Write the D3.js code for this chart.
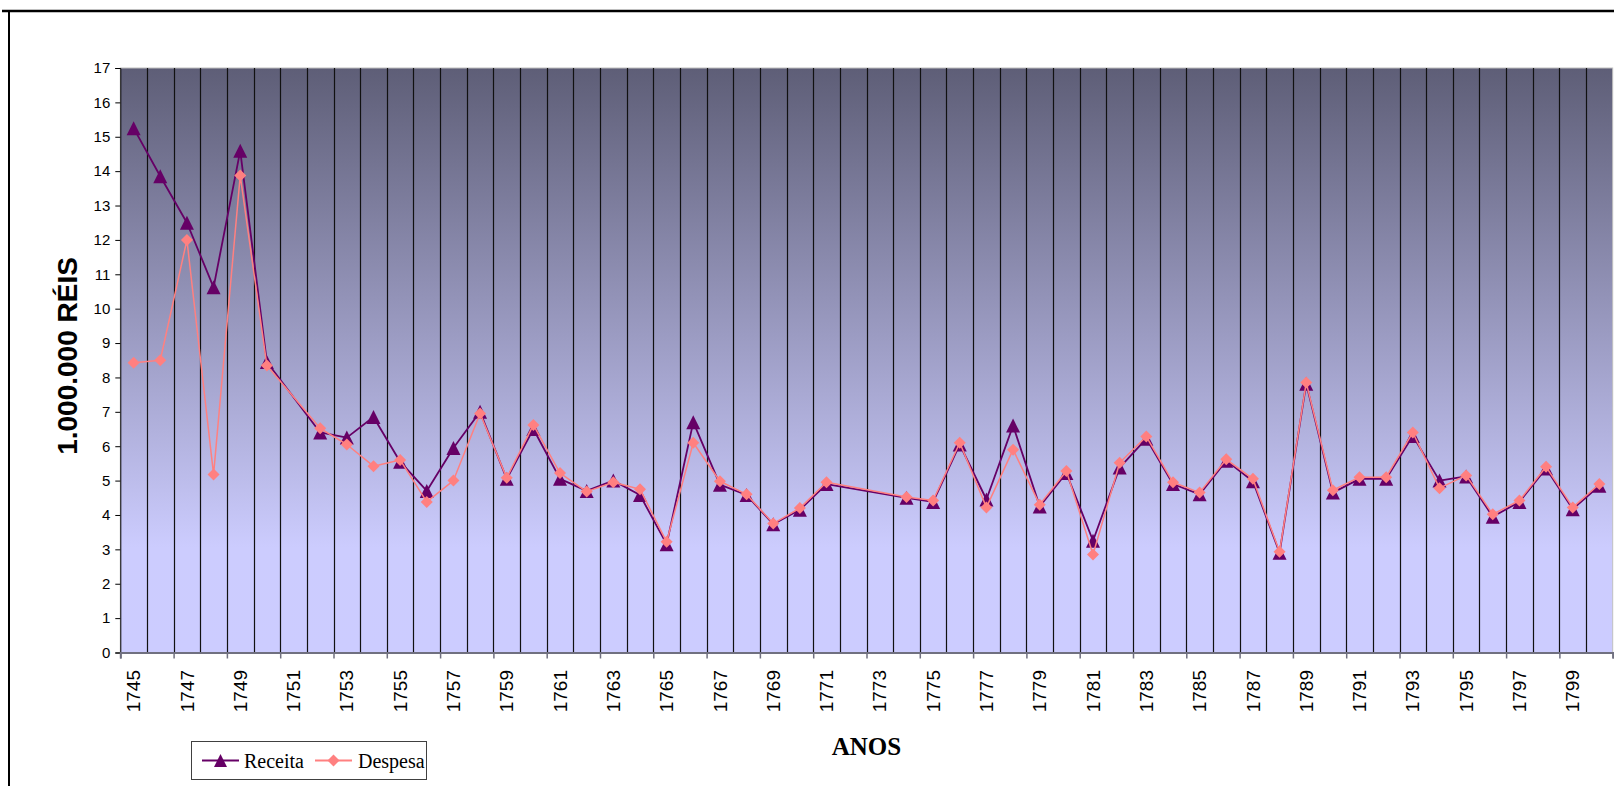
<!DOCTYPE html>
<html>
<head>
<meta charset="utf-8">
<script src="https://cdn.jsdelivr.net/npm/d3@7"></script>
<style>
  html, body { margin: 0; padding: 0; background: #fff; }
  svg { display: block; }
</style>
</head>
<body>
<div id="chart"></div>
<script>
// Receita vs Despesa, 1745-1800 (milhões de réis) — category axis, one band per year.

const years = [
  1745, 1746, 1747, 1748, 1749, 1750, 1751, 1752, 1753, 1754,
  1755, 1756, 1757, 1758, 1759, 1760, 1761, 1762, 1763, 1764,
  1765, 1766, 1767, 1768, 1769, 1770, 1771, 1772, 1773, 1774,
  1775, 1776, 1777, 1778, 1779, 1780, 1781, 1782, 1783, 1784,
  1785, 1786, 1787, 1788, 1789, 1790, 1791, 1792, 1793, 1794,
  1795, 1796, 1797, 1798, 1799, 1800
];

const receita = [
  15.25, 13.85, 12.5, 10.62, 14.59, 8.45, null, 6.4, 6.25, 6.85,
  5.55, 4.7, 5.95, 7.0, 5.05, 6.5, 5.05, 4.7, 5.0, 4.58,
  3.15, 6.7, 4.88, 4.58, 3.73, 4.15, 4.9, null, null, 4.5,
  4.38, 6.05, 4.45, 6.6, 4.25, 5.22, 3.25, 5.38, 6.22, 4.9,
  4.6, 5.58, 4.98, 2.9, 7.82, 4.65, 5.05, 5.05, 6.3, 5.0,
  5.12, 3.95, 4.38, 5.35, 4.17, 4.85
];

const despesa = [
  8.43, 8.5, 12.0, 5.18, 13.87, 8.35, null, 6.52, 6.05, 5.42,
  5.6, 4.38, 5.0, 6.95, 5.08, 6.62, 5.22, 4.68, 4.95, 4.75,
  3.22, 6.1, 4.98, 4.6, 3.75, 4.2, 4.95, null, null, 4.52,
  4.42, 6.1, 4.22, 5.9, 4.3, 5.28, 2.85, 5.52, 6.28, 4.95,
  4.65, 5.62, 5.05, 2.93, 7.85, 4.72, 5.1, 5.1, 6.4, 4.78,
  5.15, 4.02, 4.42, 5.4, 4.22, 4.9
];

const yTicks = [0, 1, 2, 3, 4, 5, 6, 7, 8, 9, 10, 11, 12, 13, 14, 15, 16, 17];
const labelYears = [1745, 1747, 1749, 1751, 1753, 1755, 1757, 1759, 1761, 1763,
  1765, 1767, 1769, 1771, 1773, 1775, 1777, 1779, 1781, 1783, 1785, 1787,
  1789, 1791, 1793, 1795, 1797, 1799];

const W = 1614, H = 786;
const plot = { left: 120.3, right: 1612.7, top: 68, bottom: 652.5 };
const sans = "'Liberation Sans', Arial, sans-serif";
const serif = "'Liberation Serif', 'Times New Roman', serif";
const C_REC = '#660066', C_DES = '#ff8080';

const svg = d3.select('#chart').append('svg')
  .attr('width', W).attr('height', H);

// outer chart frame (cut off at right/bottom in the original)
svg.append('line').attr('x1', 2).attr('x2', W).attr('y1', 11).attr('y2', 11)
  .attr('stroke', '#000').attr('stroke-width', 2.5);
svg.append('line').attr('x1', 9).attr('x2', 9).attr('y1', 10).attr('y2', H)
  .attr('stroke', '#000').attr('stroke-width', 2);

const x = d3.scaleBand().domain(years).range([plot.left, plot.right]).padding(0);
const xEdge = d3.scaleLinear().domain([0, years.length]).range([plot.left, plot.right]);
const y = d3.scaleLinear().domain([0, 17]).range([plot.bottom, plot.top]);

// gradient background
const defs = svg.append('defs');
const grad = defs.append('linearGradient').attr('id', 'bg')
  .attr('x1', 0).attr('x2', 0).attr('y1', 0).attr('y2', 1);
grad.append('stop').attr('offset', '0%').attr('stop-color', '#5e5e77');
grad.append('stop').attr('offset', '82%').attr('stop-color', '#ccccfe');
grad.append('stop').attr('offset', '100%').attr('stop-color', '#ccccff');

svg.append('rect')
  .attr('x', plot.left).attr('y', plot.top)
  .attr('width', plot.right - plot.left).attr('height', plot.bottom - plot.top)
  .attr('fill', 'url(#bg)')
  .attr('stroke', '#c0c0c0').attr('stroke-width', 1);

// vertical gridlines at every category boundary
svg.append('g').selectAll('line')
  .data(d3.range(1, years.length))
  .join('line')
  .attr('x1', d => Math.round(xEdge(d)) + 0.5).attr('x2', d => Math.round(xEdge(d)) + 0.5)
  .attr('y1', plot.top).attr('y2', plot.bottom)
  .attr('stroke', '#111').attr('stroke-width', 1.2);

// y axis
const yAxis = svg.append('g')
  .attr('transform', `translate(${plot.left},0)`)
  .call(d3.axisLeft(y).tickValues(yTicks).tickSize(5).tickPadding(5).tickFormat(d3.format('d')));
yAxis.select('.domain').attr('stroke', '#000');
yAxis.selectAll('.tick line').attr('stroke', '#000');
yAxis.selectAll('text').attr('font-family', sans).attr('font-size', 15).attr('fill', '#000');

// x axis: tick marks every two categories, labels centred on categories
const xAxis = svg.append('g')
  .attr('transform', `translate(0,${plot.bottom})`)
  .call(d3.axisBottom(xEdge).tickValues(d3.range(0, years.length + 1, 2)).tickSize(6).tickFormat(''));
xAxis.select('.domain').attr('stroke', '#707080').attr('stroke-width', 2);
xAxis.selectAll('.tick line').attr('stroke', '#707080').attr('stroke-width', 1.5);

svg.append('g').selectAll('text')
  .data(labelYears)
  .join('text')
  .attr('transform', d => `translate(${x(d) + x.bandwidth() / 2},670) rotate(-90)`)
  .attr('text-anchor', 'end')
  .attr('dy', '0.35em')
  .attr('font-family', sans).attr('font-size', 19).attr('fill', '#000')
  .text(d => d);

// axis titles
svg.append('text')
  .attr('transform', 'translate(67,356) rotate(-90)')
  .attr('text-anchor', 'middle').attr('dy', '0.35em')
  .attr('font-family', sans).attr('font-size', 28).attr('font-weight', 700)
  .text('1.000.000 RÉIS');

svg.append('text')
  .attr('x', (plot.left + plot.right) / 2).attr('y', 755)
  .attr('text-anchor', 'middle')
  .attr('font-family', serif).attr('font-size', 25).attr('font-weight', 700)
  .text('ANOS');

// markers
const triPath = (w, h) => `M0,${-h / 2}L${w / 2},${h / 2}L${-w / 2},${h / 2}Z`;
const diaPath = r => `M0,${-r}L${r},0L0,${r}L${-r},0Z`;

function drawSeries(values, color, width, markerPath) {
  const pts = years.map((yr, i) => ({ yr, v: values[i] })).filter(d => d.v != null);
  const line = d3.line().x(d => x(d.yr) + x.bandwidth() / 2).y(d => y(d.v));
  const g = svg.append('g');
  g.append('path').datum(pts)
    .attr('d', line).attr('fill', 'none')
    .attr('stroke', color).attr('stroke-width', width).attr('stroke-linejoin', 'round');
  g.selectAll('path.m').data(pts).join('path')
    .attr('class', 'm')
    .attr('transform', d => `translate(${x(d.yr) + x.bandwidth() / 2},${y(d.v)})`)
    .attr('d', markerPath)
    .attr('fill', color);
}

drawSeries(receita, C_REC, 1.8, triPath(14, 14));
drawSeries(despesa, C_DES, 1.5, diaPath(6));

// legend
const lg = svg.append('g');
lg.append('rect').attr('x', 191.5).attr('y', 741.5).attr('width', 235).attr('height', 38)
  .attr('fill', '#fff').attr('stroke', '#404040').attr('stroke-width', 1);
const legendItems = [
  { name: 'Receita', color: C_REC, x0: 202, marker: triPath(13, 13), tx: 244 },
  { name: 'Despesa', color: C_DES, x0: 315, marker: diaPath(6), tx: 358 }
];
legendItems.forEach(it => {
  lg.append('line').attr('x1', it.x0).attr('x2', it.x0 + 37)
    .attr('y1', 760.5).attr('y2', 760.5)
    .attr('stroke', it.color).attr('stroke-width', 1.8);
  lg.append('path').attr('d', it.marker)
    .attr('transform', `translate(${it.x0 + 18.5},760.5)`)
    .attr('fill', it.color);
  lg.append('text').attr('x', it.tx).attr('y', 767.5)
    .attr('font-family', serif).attr('font-size', 20).attr('fill', '#000')
    .text(it.name);
});
</script>
</body>
</html>
